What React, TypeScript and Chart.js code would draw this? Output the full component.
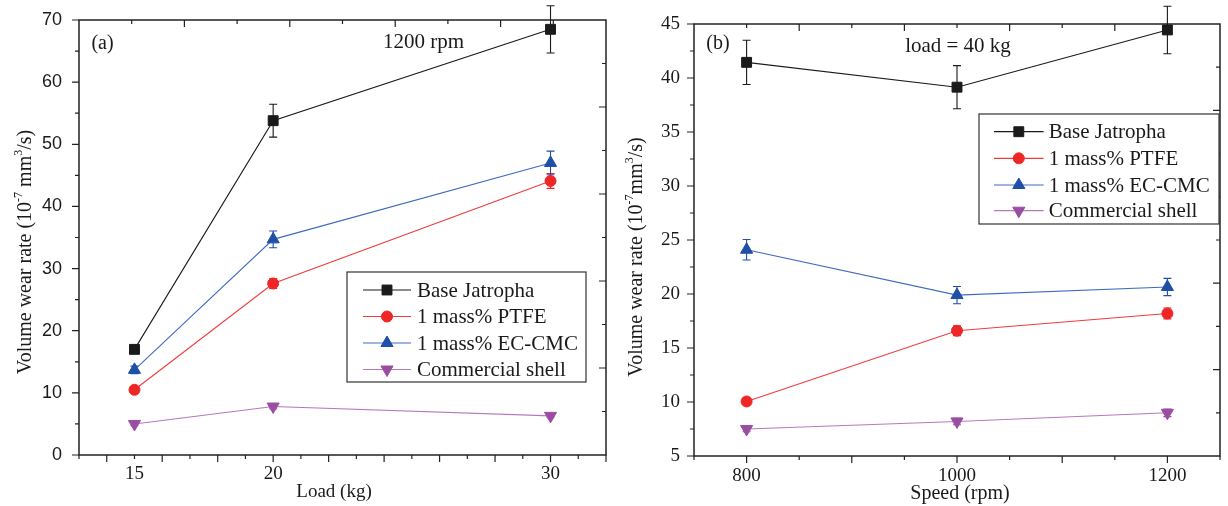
import React, { useEffect, useRef } from 'react';
import { Chart, registerables } from 'chart.js';

Chart.register(...registerables);

const SERIF = '"Liberation Serif", "Times New Roman", serif';
const SANS = '"Liberation Sans", Arial, sans-serif';

// ---------- data ----------
const seriesNames = ['Base Jatropha', '1 mass% PTFE', '1 mass% EC-CMC', 'Commercial shell'];

// panel (a): load sweep at 1200 rpm
const loads = [15, 20, 30];
const loadTicks = [15, 20, 30];
const wearA_Base = [17.0, 53.8, 68.5];
const wearA_PTFE = [10.5, 27.6, 44.1];
const wearA_EC = [13.7, 34.7, 47.0];
const wearA_Shell = [5.0, 7.8, 6.3];
const errA_Base = [0.5, 2.65, 3.8];
const errA_PTFE = [0.4, 0.8, 1.2];
const errA_EC = [0.6, 1.35, 1.9];
const errA_Shell = [0.3, 0.4, 0.3];
const yTicksA = [0, 10, 20, 30, 40, 50, 60, 70];

// panel (b): speed sweep at 40 kg
const speeds = [800, 1000, 1200];
const speedTicks = [800, 1000, 1200];
const wearB_Base = [41.45, 39.15, 44.45];
const wearB_PTFE = [10.05, 16.6, 18.2];
const wearB_EC = [24.1, 19.9, 20.65];
const wearB_Shell = [7.5, 8.2, 9.0];
const errB_Base = [2.05, 2.0, 2.2];
const errB_PTFE = [0.3, 0.45, 0.5];
const errB_EC = [0.95, 0.8, 0.8];
const errB_Shell = [0.25, 0.3, 0.35];
const yTicksB = [5, 10, 15, 20, 25, 30, 35, 40, 45];

// ---------- styles ----------
const STYLES = [
  { marker: '#1a1a1a', line: '#1a1a1a', style: 'rect', rot: 0, r: 7 },
  { marker: '#ee2626', line: '#f03c3c', style: 'circle', rot: 0, r: 5.5 },
  { marker: '#1f4fa6', line: '#3f6cc0', style: 'triangle', rot: 0, r: 7 },
  { marker: '#9a4ea2', line: '#b678be', style: 'triangle', rot: 180, r: 7 },
];

type Seg = { t: string; sup?: boolean };

interface Panel {
  xs: number[];
  xTicks: number[];
  xMin: number;
  xMax: number;
  xStep: number;
  xMajor: (v: number) => boolean;
  topMajor: (v: number) => boolean;
  topStep: number;
  values: number[][];
  errors: number[][];
  yTicks: number[];
  yMin: number;
  yMax: number;
  yMinorStep: number;
  yMajorStep: number;
  padTop: number;
  leftW: number;
  bottomH: number;
  yFont: any;
  yPad: number;
  xFont: any;
  xPad: number;
  xTitle: string;
  xTitleX: number;
  xTitleY: number;
  xTitleSize: number;
  yTitle: Seg[];
  yTitleX: number;
  yTitleY: number;
  tag: string;
  tagX: number;
  tagY: number;
  note: string;
  noteX: number;
  noteY: number;
  noteSize: number;
  legend: { x0: number; y0: number; x1: number; y1: number; rows: number[]; lx0: number; lx1: number; tx: number };
}

function drawRich(ctx: CanvasRenderingContext2D, segs: Seg[], size: number, cy: number, baselineX: number) {
  ctx.save();
  const supSize = Math.round(size * 0.6);
  const widths = segs.map(s => {
    ctx.font = `${s.sup ? supSize : size}px ${SERIF}`;
    return ctx.measureText(s.t).width;
  });
  const total = widths.reduce((a, b) => a + b, 0);
  ctx.translate(baselineX, cy);
  ctx.rotate(-Math.PI / 2);
  ctx.fillStyle = '#1a1a1a';
  ctx.textBaseline = 'alphabetic';
  ctx.textAlign = 'left';
  let u = -total / 2;
  segs.forEach((s, i) => {
    ctx.font = `${s.sup ? supSize : size}px ${SERIF}`;
    ctx.fillText(s.t, u, s.sup ? -size * 0.45 : 0);
    u += widths[i];
  });
  ctx.restore();
}

// legend marker, same geometry as Chart.js point styles
function drawMarker(ctx: CanvasRenderingContext2D, idx: number, x: number, y: number) {
  const s = STYLES[idx];
  ctx.save();
  ctx.fillStyle = s.marker;
  ctx.strokeStyle = s.marker;
  ctx.lineWidth = 1;
  ctx.beginPath();
  if (s.style === 'rect') {
    const h = Math.SQRT1_2 * s.r;
    ctx.rect(x - h, y - h, 2 * h, 2 * h);
  } else if (s.style === 'circle') {
    ctx.arc(x, y, s.r, 0, Math.PI * 2);
  } else {
    let rad = (s.rot * Math.PI) / 180;
    ctx.moveTo(x + Math.sin(rad) * s.r, y - Math.cos(rad) * s.r);
    for (let k = 0; k < 2; k++) {
      rad += (2 * Math.PI) / 3;
      ctx.lineTo(x + Math.sin(rad) * s.r, y - Math.cos(rad) * s.r);
    }
    ctx.closePath();
  }
  ctx.fill();
  ctx.stroke();
  ctx.restore();
}

function makePlugins(p: Panel) {
  const frame = {
    id: 'frame',
    beforeDatasetsDraw(chart: any) {
      const ctx: CanvasRenderingContext2D = chart.ctx;
      const { left, right, top, bottom } = chart.chartArea;
      const xs = chart.scales.x;
      const ys = chart.scales.y;
      ctx.save();
      ctx.strokeStyle = '#222';
      ctx.lineWidth = 1.5;
      ctx.strokeRect(left, top, right - left, bottom - top);
      ctx.lineWidth = 1.2;
      ctx.beginPath();
      for (let v = p.xMin; v <= p.xMax + 1e-6; v += p.xStep) {
        const px = xs.getPixelForValue(v);
        const len = p.xMajor(v) ? 7 : 4;
        ctx.moveTo(px, bottom);
        ctx.lineTo(px, bottom + len);
      }
      for (let v = p.xMin + p.topStep; v < p.xMax - 1e-6; v += p.topStep) {
        const px = xs.getPixelForValue(v);
        const len = p.topMajor(v) ? 7 : 4;
        ctx.moveTo(px, top);
        ctx.lineTo(px, top + len);
      }
      for (let v = p.yMin; v <= p.yMax + 1e-6; v += p.yMinorStep) {
        const py = ys.getPixelForValue(v);
        const q = (v - p.yMin) / p.yMajorStep;
        const major = Math.abs(q - Math.round(q)) < 1e-6;
        const len = major ? 7 : 4;
        ctx.moveTo(left, py);
        ctx.lineTo(left - len, py);
      }
      for (let i = 1; i < 10; i++) {
        const py = bottom - (i / 10) * (bottom - top);
        const len = i % 2 === 0 ? 7 : 4;
        ctx.moveTo(right, py);
        ctx.lineTo(right - len, py);
      }
      ctx.stroke();
      ctx.restore();

      // error bars
      ctx.save();
      chart.data.datasets.forEach((ds: any, i: number) => {
        const meta = chart.getDatasetMeta(i);
        ctx.strokeStyle = STYLES[i].marker;
        ctx.lineWidth = 1.1;
        meta.data.forEach((pt: any, j: number) => {
          const v = ds.data[j].y;
          const e = p.errors[i][j];
          const y1 = ys.getPixelForValue(v + e);
          const y0 = ys.getPixelForValue(v - e);
          const x = pt.x;
          ctx.beginPath();
          ctx.moveTo(x, y1);
          ctx.lineTo(x, y0);
          ctx.moveTo(x - 4, y1);
          ctx.lineTo(x + 4, y1);
          ctx.moveTo(x - 4, y0);
          ctx.lineTo(x + 4, y0);
          ctx.stroke();
        });
      });
      ctx.restore();
    },
    afterDraw(chart: any) {
      const ctx: CanvasRenderingContext2D = chart.ctx;
      ctx.save();
      ctx.fillStyle = '#1a1a1a';
      ctx.textAlign = 'center';
      ctx.textBaseline = 'middle';
      ctx.font = `20px ${SERIF}`;
      ctx.fillText(p.tag, p.tagX, p.tagY);
      ctx.font = `${p.noteSize}px ${SERIF}`;
      ctx.fillText(p.note, p.noteX, p.noteY);
      ctx.textBaseline = 'alphabetic';
      ctx.font = `${p.xTitleSize}px ${SERIF}`;
      ctx.fillText(p.xTitle, p.xTitleX, p.xTitleY);
      ctx.restore();
      drawRich(ctx, p.yTitle, 20, p.yTitleY, p.yTitleX);

      // legend
      const L = p.legend;
      ctx.save();
      ctx.fillStyle = '#fff';
      ctx.fillRect(L.x0, L.y0, L.x1 - L.x0, L.y1 - L.y0);
      ctx.strokeStyle = '#333';
      ctx.lineWidth = 1.2;
      ctx.strokeRect(L.x0, L.y0, L.x1 - L.x0, L.y1 - L.y0);
      L.rows.forEach((ry, i) => {
        ctx.strokeStyle = STYLES[i].line;
        ctx.lineWidth = 1.2;
        ctx.beginPath();
        ctx.moveTo(L.lx0, ry);
        ctx.lineTo(L.lx1, ry);
        ctx.stroke();
        drawMarker(ctx, i, (L.lx0 + L.lx1) / 2, ry);
        ctx.fillStyle = '#1a1a1a';
        ctx.font = `21px ${SERIF}`;
        ctx.textAlign = 'left';
        ctx.textBaseline = 'middle';
        ctx.fillText(seriesNames[i], L.tx, ry + 1);
      });
      ctx.restore();
    },
  };
  return [frame];
}

function makeConfig(p: Panel): any {
  return {
    type: 'line',
    data: {
      datasets: STYLES.map((s, i) => ({
        label: seriesNames[i],
        data: p.xs.map((x, j) => ({ x, y: p.values[i][j] })),
        borderColor: s.line,
        backgroundColor: s.marker,
        borderWidth: 1.1,
        pointStyle: s.style,
        pointRotation: s.rot,
        pointRadius: s.r,
        pointHoverRadius: s.r,
        pointBackgroundColor: s.marker,
        pointBorderColor: s.marker,
        pointBorderWidth: 1,
        tension: 0,
        fill: false,
        clip: false,
      })),
    },
    options: {
      animation: false,
      responsive: false,
      maintainAspectRatio: false,
      events: [],
      layout: { padding: { top: p.padTop, right: 2, left: 0, bottom: 0 } },
      plugins: { legend: { display: false }, tooltip: { enabled: false }, title: { display: false } },
      scales: {
        x: {
          type: 'linear',
          position: 'bottom',
          min: p.xMin,
          max: p.xMax,
          afterBuildTicks: (s: any) => {
            s.ticks = p.xTicks.map(v => ({ value: v }));
          },
          afterFit: (s: any) => {
            s.height = p.bottomH;
          },
          grid: { display: false, drawTicks: true, tickLength: p.xPad },
          border: { display: false },
          ticks: {
            autoSkip: false,
            maxRotation: 0,
            font: p.xFont,
            color: '#1a1a1a',
            padding: 0,
            callback: (v: any) => String(v),
          },
        },
        y: {
          type: 'linear',
          position: 'left',
          min: p.yMin,
          max: p.yMax,
          afterBuildTicks: (s: any) => {
            s.ticks = p.yTicks.map(v => ({ value: v }));
          },
          afterFit: (s: any) => {
            s.width = p.leftW;
          },
          grid: { display: false, drawTicks: true, tickLength: p.yPad },
          border: { display: false },
          ticks: {
            font: p.yFont,
            color: '#1a1a1a',
            padding: 0,
            callback: (v: any) => String(v),
          },
        },
      },
    },
    plugins: makePlugins(p),
  };
}

const panelA: Panel = {
  xs: loads,
  xTicks: loadTicks,
  xMin: 13,
  xMax: 32,
  xStep: 1,
  xMajor: v => Math.round(v) % 2 === 0,
  topMajor: v => Math.round((v - 13) / 1.9) % 2 === 0,
  topStep: 1.9,
  values: [wearA_Base, wearA_PTFE, wearA_EC, wearA_Shell],
  errors: [errA_Base, errA_PTFE, errA_EC, errA_Shell],
  yTicks: yTicksA,
  yMin: 0,
  yMax: 70,
  yMinorStep: 5,
  yMajorStep: 10,
  padTop: 20,
  leftW: 79,
  bottomH: 51,
  yFont: { family: SANS, size: 18 },
  yPad: 17,
  xFont: { family: SERIF, size: 19 },
  xPad: 8,
  xTitle: 'Load (kg)',
  xTitleX: 334,
  xTitleY: 497,
  xTitleSize: 19,
  yTitle: [{ t: 'Volume wear rate (10' }, { t: '-7', sup: true }, { t: ' mm' }, { t: '3', sup: true }, { t: '/s)' }],
  yTitleX: 31,
  yTitleY: 252,
  tag: '(a)',
  tagX: 102.5,
  tagY: 44,
  note: '1200 rpm',
  noteX: 423.5,
  noteY: 42,
  noteSize: 21,
  legend: { x0: 347, y0: 272, x1: 586, y1: 382, rows: [290, 316.5, 343, 369.5], lx0: 363, lx1: 411, tx: 417 },
};

const panelB: Panel = {
  xs: speeds,
  xTicks: speedTicks,
  xMin: 750,
  xMax: 1250,
  xStep: 50,
  xMajor: v => Math.round(v) % 100 === 0,
  topMajor: v => Math.round(v) % 100 === 50,
  topStep: 50,
  values: [wearB_Base, wearB_PTFE, wearB_EC, wearB_Shell],
  errors: [errB_Base, errB_PTFE, errB_EC, errB_Shell],
  yTicks: yTicksB,
  yMin: 5,
  yMax: 45,
  yMinorStep: 2.5,
  yMajorStep: 5,
  padTop: 24,
  leftW: 80,
  bottomH: 50,
  yFont: { family: SERIF, size: 19 },
  yPad: 14,
  xFont: { family: SERIF, size: 19 },
  xPad: 9,
  xTitle: 'Speed (rpm)',
  xTitleX: 960 - 614,
  xTitleY: 499,
  xTitleSize: 20,
  yTitle: [{ t: 'Volume wear rate (10' }, { t: '-7', sup: true }, { t: 'mm' }, { t: '3', sup: true }, { t: '/s)' }],
  yTitleX: 641.5 - 614,
  yTitleY: 257,
  tag: '(b)',
  tagX: 718 - 614,
  tagY: 44,
  note: 'load = 40 kg',
  noteX: 958 - 614,
  noteY: 46,
  noteSize: 21,
  legend: {
    x0: 979 - 614,
    y0: 114,
    x1: 1219 - 614,
    y1: 224,
    rows: [131.7, 158.3, 185, 210.7],
    lx0: 994 - 614,
    lx1: 1043.6 - 614,
    tx: 1048.7 - 614,
  },
};

function ChartPanel({ panel, left }: { panel: Panel; left: number }) {
  const ref = useRef<HTMLCanvasElement | null>(null);
  useEffect(() => {
    if (!ref.current) return;
    const chart = new Chart(ref.current, makeConfig(panel));
    return () => chart.destroy();
  }, [panel]);
  return (
    <canvas
      ref={ref}
      width={614}
      height={506}
      style={{ position: 'absolute', left, top: 0, width: 614, height: 506 }}
    />
  );
}

export default function App() {
  return (
    <div style={{ position: 'fixed', left: 0, top: 0, width: 1228, height: 506, background: '#fff', overflow: 'hidden' }}>
      <ChartPanel panel={panelA} left={0} />
      <ChartPanel panel={panelB} left={614} />
    </div>
  );
}
